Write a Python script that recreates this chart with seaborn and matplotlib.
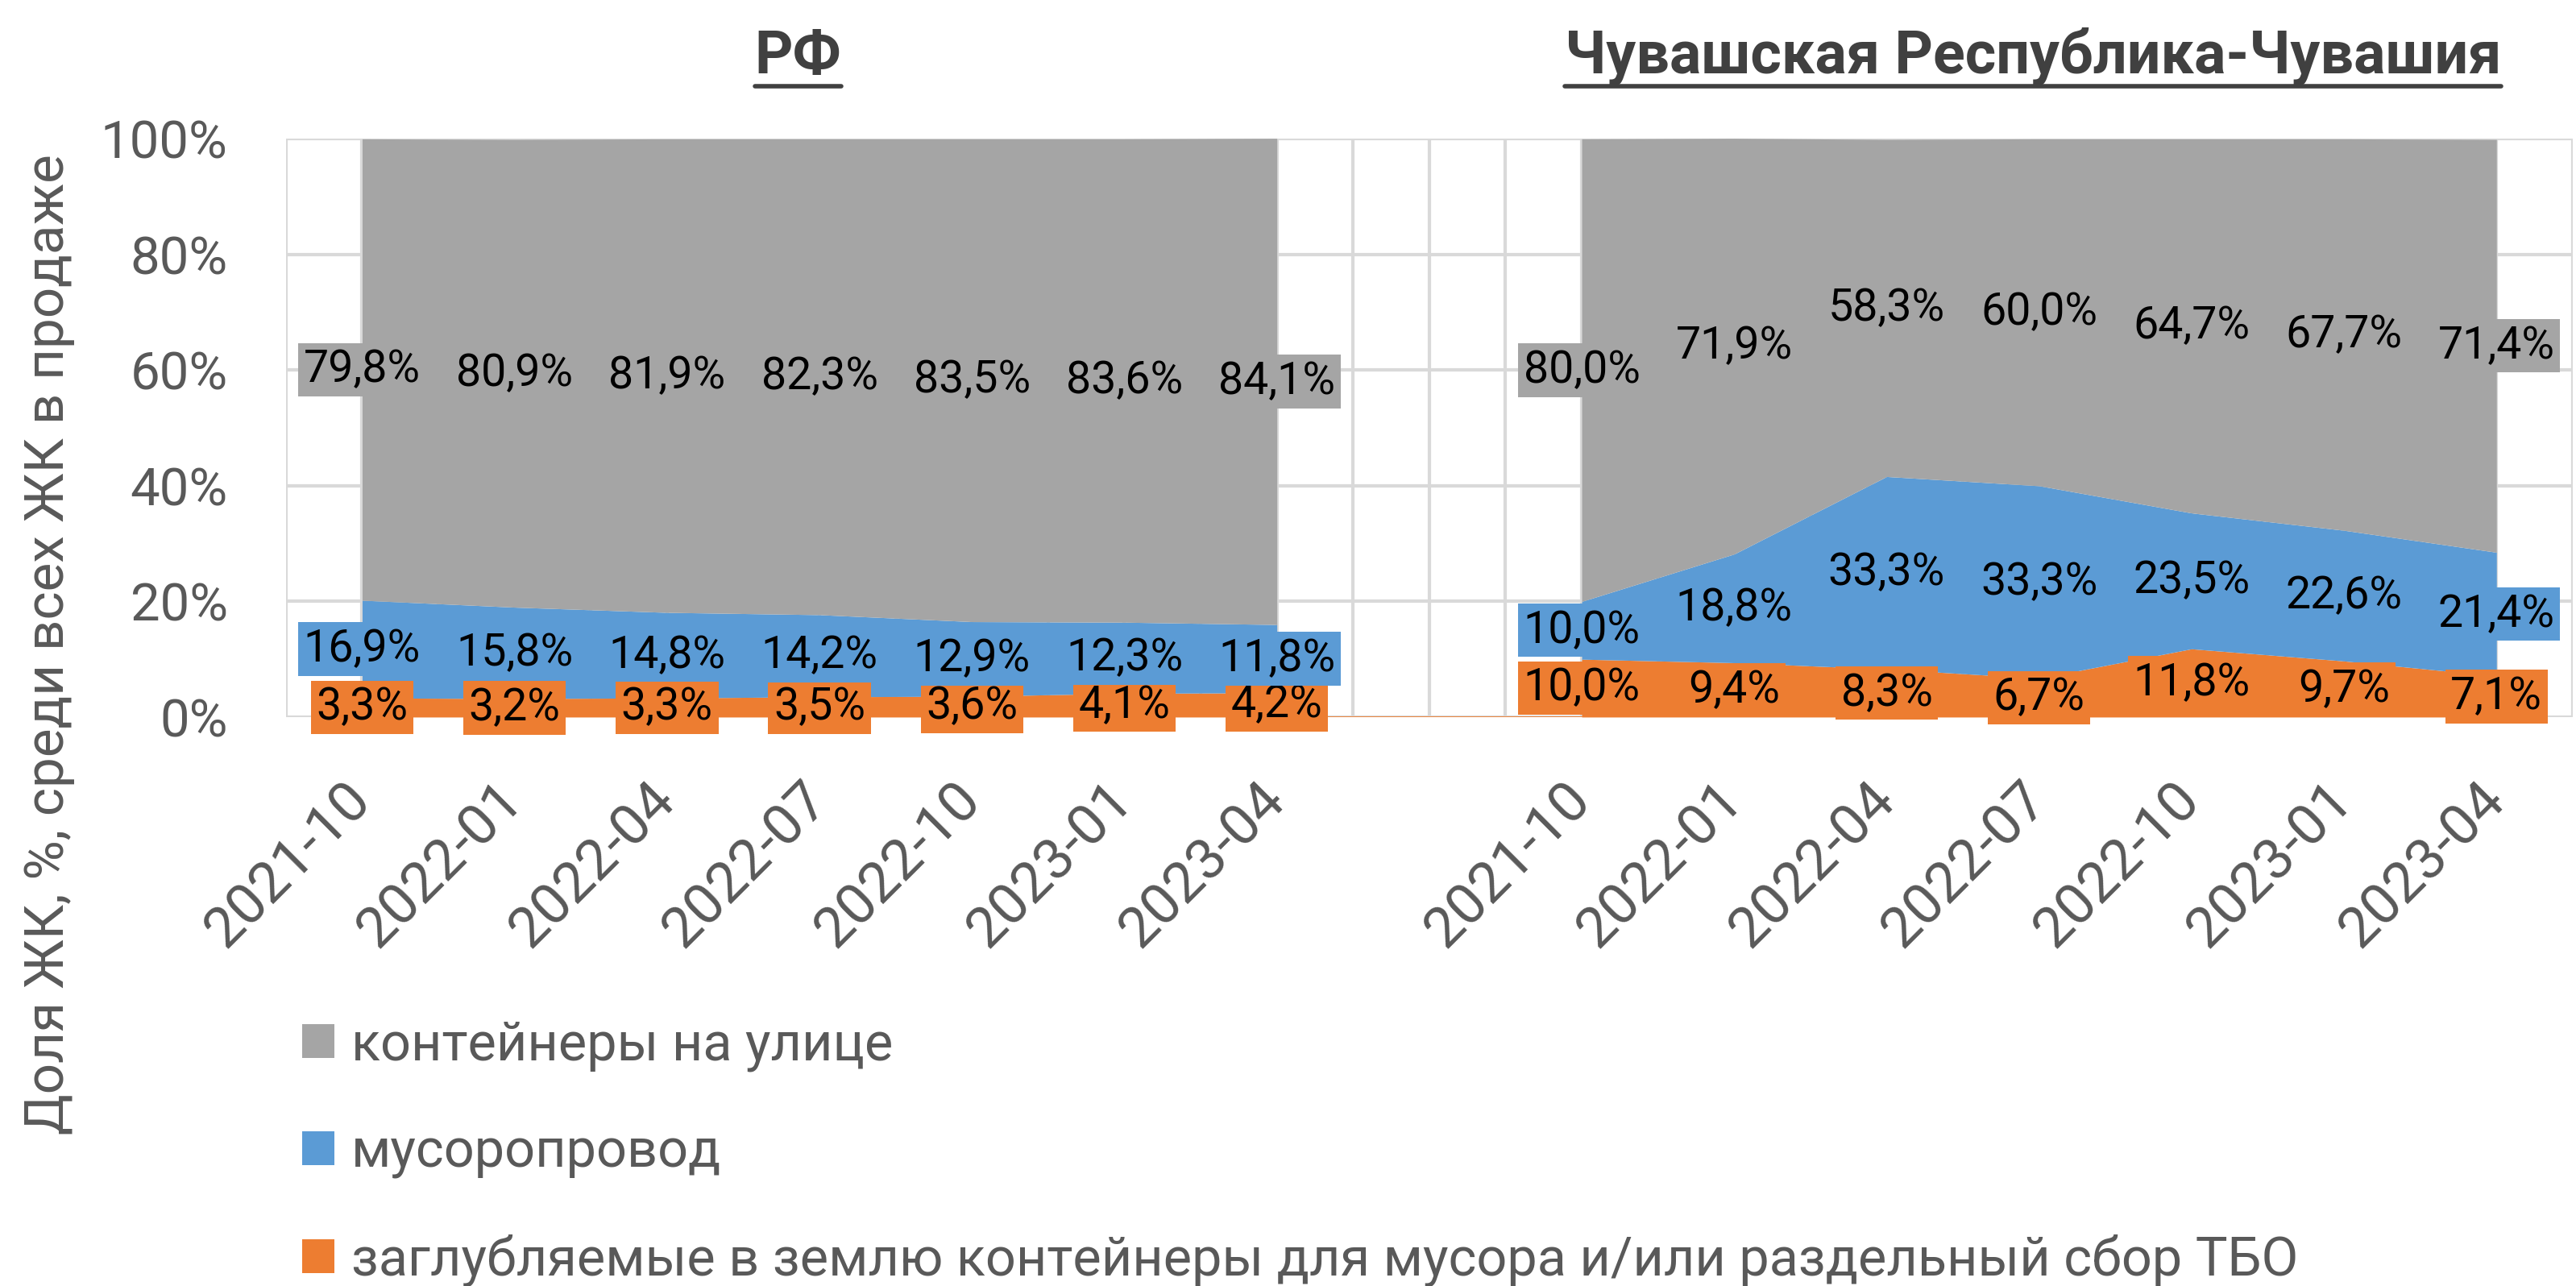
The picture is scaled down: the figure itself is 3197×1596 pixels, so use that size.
import numpy as np
import pandas as pd
import matplotlib.pyplot as plt
from matplotlib.patches import Patch
from matplotlib.lines import Line2D
from matplotlib import transforms
import seaborn as sns

# data (shares of housing complexes, %)
periods = ['2021-10', '2022-01', '2022-04', '2022-07', '2022-10', '2023-01', '2023-04']
regions = ['РФ', 'Чувашская Республика-Чувашия']

rf_underground = [3.3, 3.2, 3.3, 3.5, 3.6, 4.1, 4.2]
rf_chute = [16.9, 15.8, 14.8, 14.2, 12.9, 12.3, 11.8]
rf_street = [79.8, 80.9, 81.9, 82.3, 83.5, 83.6, 84.1]

chv_underground = [10.0, 9.4, 8.3, 6.7, 11.8, 9.7, 7.1]
chv_chute = [10.0, 18.8, 33.3, 33.3, 23.5, 22.6, 21.4]
chv_street = [80.0, 71.9, 58.3, 60.0, 64.7, 67.7, 71.4]

series_names = ['заглубляемые в землю контейнеры для мусора и/или раздельный сбор ТБО',
                'мусоропровод',
                'контейнеры на улице']
colors = ['#ED7D31', '#5B9BD5', '#A5A5A5']

# one empty category between the two regions
gap = [np.nan]
df = pd.DataFrame({
    'period': periods + [''] + periods,
    series_names[0]: rf_underground + gap + chv_underground,
    series_names[1]: rf_chute + gap + chv_chute,
    series_names[2]: rf_street + gap + chv_street,
})
x = np.arange(len(df))

sns.set_theme(style='white')
plt.rcParams['font.family'] = ['Roboto', 'DejaVu Sans']
txt_gray = '#595959'
grid_c = '#D9D9D9'

fig = plt.figure(figsize=(31.97, 15.96), dpi=100)
ax = fig.add_axes([0.111, 0.4424, 0.8877, 0.4496])

valid = df[series_names[0]].notna().to_numpy()
# split into contiguous segments
segments = []
cur = []
for i, v in enumerate(valid):
    if v:
        cur.append(i)
    elif cur:
        segments.append(cur)
        cur = []
if cur:
    segments.append(cur)

for seg in segments:
    xs = x[seg]
    ax.stackplot(xs, *[df[s].to_numpy()[seg] for s in series_names],
                 colors=colors, linewidth=0, zorder=3)

# zero line of the bottom series across the gap
gap_idx = np.where(~valid)[0]
gx = np.arange(gap_idx[0] - 1, gap_idx[-1] + 2)
ax.plot(gx, np.zeros(len(gx)), color=colors[0], lw=2, zorder=3)

# data labels in the middle of each band
bottom = np.zeros(len(df))
for s, c in zip(series_names, colors):
    vals = df[s].to_numpy()
    for i in x[valid]:
        ax.text(x[i], bottom[i] + vals[i] / 2, f'{vals[i]:.1f}%'.replace('.', ','),
                ha='center', va='center', fontsize=40, color='black', zorder=5,
                bbox=dict(boxstyle='square,pad=0.12', fc=c, ec='none'))
    bottom = bottom + np.nan_to_num(vals)

ax.set_xlim(-0.5, len(df) - 0.5)
ax.set_ylim(0, 100)
ax.set_yticks(np.arange(0, 101, 20))
ax.set_yticklabels([f'{v}%' for v in range(0, 101, 20)], fontsize=47, color=txt_gray)
ax.set_xticks(x)
ax.set_xticklabels(df['period'], rotation=45, ha='right', va='center',
                   rotation_mode='anchor', fontsize=51, color=txt_gray)
ax.set_xticks(np.arange(-0.5, len(df), 1), minor=True)
ax.tick_params(axis='both', which='both', length=0)
ax.tick_params(axis='x', pad=66)
ax.tick_params(axis='y', pad=52)
ax.grid(True, which='both', color=grid_c, lw=3)
ax.grid(False, which='minor', axis='y')
ax.set_axisbelow(True)
for sp in ax.spines.values():
    sp.set_visible(False)

fig.text(0.019, 0.499, 'Доля ЖК, %, среди всех ЖК в продаже', rotation=90,
         ha='center', va='center', fontsize=48.5, color=txt_gray)

# region titles with underline
title_x = [2.86, 10.96]
fig.canvas.draw()
renderer = fig.canvas.get_renderer()
for t, tx in zip(regions, title_x):
    trans = transforms.blended_transform_factory(ax.transData, fig.transFigure)
    h = ax.text(tx, 0.943, t, transform=trans, ha='center', va='baseline',
                fontsize=53, fontweight='bold', color='#404040')
    bb = h.get_window_extent(renderer=renderer)
    inv = fig.transFigure.inverted()
    (x0, y0), (x1, y1) = inv.transform([[bb.x0, bb.y0], [bb.x1, bb.y1]])
    fig.add_artist(Line2D([x0, x1], [0.933, 0.933], transform=fig.transFigure,
                          color='#404040', lw=4))

handles = [Patch(facecolor=c, edgecolor='none', label=s)
           for s, c in zip(series_names[::-1], colors[::-1])]
fig.legend(handles=handles, loc='upper left', bbox_to_anchor=(0.107, 0.228),
           frameon=False, fontsize=48, labelcolor=txt_gray, handlelength=0.6,
           handleheight=0.6, handletextpad=0.31, labelspacing=1.03, borderpad=0)

fig.savefig('out.png', dpi=100)
